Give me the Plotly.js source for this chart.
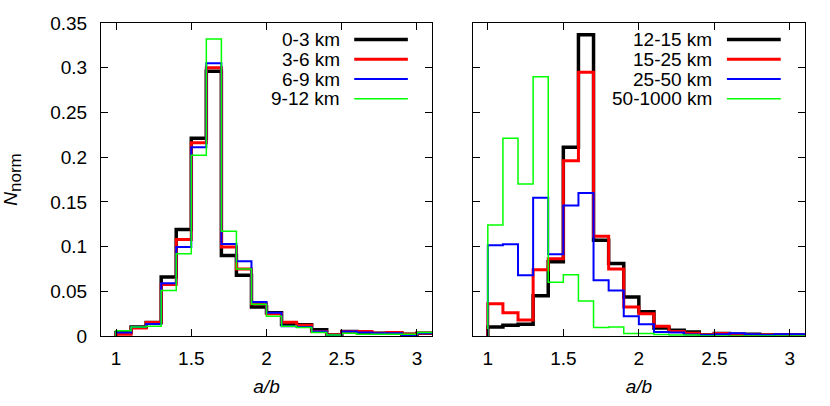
<!DOCTYPE html>
<html>
<head>
<meta charset="utf-8">
<script src="https://cdn.plot.ly/plotly-3.0.1.min.js"></script>
<style>
  html, body { margin: 0; padding: 0; background: #fff; }
  #chart { width: 830px; height: 406px; }
</style>
</head>
<body>
<div id="chart"></div>
<script>
// Bin left edges (bin width 0.1)
const binLeft = [1.0, 1.1, 1.2, 1.3, 1.4, 1.5, 1.6, 1.7, 1.8, 1.9, 2.0, 2.1, 2.2, 2.3, 2.4, 2.5, 2.6, 2.7, 2.8, 2.9, 3.0];
const binWidth = 0.1;

// Left panel series
const leftNames = ['0-3 km', '3-6 km', '6-9 km', '9-12 km'];
const n0_3   = [0.004, 0.010, 0.015, 0.066, 0.119, 0.221, 0.296, 0.090, 0.068, 0.0325, 0.026, 0.013, 0.0125, 0.007, 0.001, 0.005, 0.004, 0.003, 0.003, 0.002, 0.003];
const n3_6   = [0.002, 0.009, 0.015, 0.0575, 0.108, 0.216, 0.300, 0.0995, 0.075, 0.036, 0.025, 0.0155, 0.012, 0.005, 0.001, 0.005, 0.005, 0.003, 0.004, 0.002, 0.003];
const n6_9   = [0.004, 0.010, 0.0135, 0.059, 0.0995, 0.211, 0.305, 0.103, 0.0835, 0.038, 0.026, 0.011, 0.010, 0.005, 0.001, 0.005, 0.004, 0.003, 0.003, 0.001, 0.003];
const n9_12  = [0.006, 0.010, 0.011, 0.051, 0.092, 0.202, 0.332, 0.117, 0.075, 0.0355, 0.022, 0.011, 0.0094, 0.004, 0.001, 0.003, 0.002, 0.002, 0.002, 0.002, 0.004];

// Right panel series
const rightNames = ['12-15 km', '15-25 km', '25-50 km', '50-1000 km'];
const n12_15   = [0.010, 0.012, 0.013, 0.045, 0.083, 0.211, 0.337, 0.107, 0.081, 0.0436, 0.027, 0.009, 0.0064, 0.0045, 0.001, 0.0027, 0.002, 0.002, 0.001, 0.001, 0.001];
const n15_25   = [0.036, 0.026, 0.018, 0.074, 0.0865, 0.196, 0.295, 0.1115, 0.075, 0.0325, 0.025, 0.011, 0.005, 0.003, 0.001, 0.0027, 0.001, 0.001, 0.001, 0.001, 0.001];
const n25_50   = [0.1014, 0.1025, 0.068, 0.1547, 0.0914, 0.146, 0.160, 0.0623, 0.051, 0.022, 0.013, 0.0045, 0.004, 0.0016, 0.001, 0.002, 0.003, 0.002, 0.001, 0.002, 0.002];
const n50_1000 = [0.124, 0.221, 0.170, 0.290, 0.060, 0.0686, 0.039, 0.0094, 0.010, 0.0027, 0.0027, 0.0017, 0.001, 0.001, 0, 0, 0, 0, 0, 0, 0];

// Ticks
const xTickVals = [1, 1.5, 2, 2.5, 3];
const xTickText = ['1', '1.5', '2', '2.5', '3'];
const yTickVals = [0, 0.05, 0.1, 0.15, 0.2, 0.25, 0.3, 0.35];
const yTickText = ['0', '0.05', '0.1', '0.15', '0.2', '0.25', '0.3', '0.35'];

const colors = ['#000000', '#ff0000', '#0000ff', '#00ff00'];
const widths = [3.5, 3, 2, 1.5];

const xRange = [0.9, 3.1];
const yRange = [0, 0.35];

function stepTrace(vals, name, idx, xa, ya) {
  const x = [binLeft[0]].concat(binLeft, [binLeft[binLeft.length - 1] + binWidth]);
  const y = [0].concat(vals, [vals[vals.length - 1]]);
  return {
    type: 'scatter', mode: 'lines', name: name,
    x: x, y: y, xaxis: xa, yaxis: ya,
    line: { shape: 'hv', color: colors[idx], width: widths[idx] },
    showlegend: false, hoverinfo: 'skip'
  };
}

const leftSeries = [n0_3, n3_6, n6_9, n9_12];
const rightSeries = [n12_15, n15_25, n25_50, n50_1000];

const traces = [];
leftSeries.forEach((s, i) => traces.push(stepTrace(s, leftNames[i], i, 'x', 'y')));
rightSeries.forEach((s, i) => traces.push(stepTrace(s, rightNames[i], i, 'x2', 'y2')));

// Gnuplot-style legends (text right-aligned, sample line to the right)
const annotations = [];
const shapes = [];
const legTextX = 0.727, legLineX0 = 0.765, legLineX1 = 0.927;
const legY0 = 0.947, legDy = 0.063;
function addLegend(names, xa, ya) {
  names.forEach((nm, i) => {
    const yy = legY0 - i * legDy;
    annotations.push({
      text: nm, xref: xa + ' domain', yref: ya + ' domain',
      x: legTextX, y: yy, xanchor: 'right', yanchor: 'middle',
      showarrow: false, font: { size: 19, color: '#000' }
    });
    shapes.push({
      type: 'line', xref: xa + ' domain', yref: ya + ' domain',
      x0: legLineX0, x1: legLineX1, y0: yy, y1: yy,
      line: { color: colors[i], width: widths[i] }
    });
  });
}
addLegend(leftNames, 'x', 'y');
addLegend(rightNames, 'x2', 'y2');

const axisCommon = {
  showgrid: false, zeroline: false, showline: true, linecolor: '#000', linewidth: 1,
  mirror: 'allticks', ticks: 'inside', ticklen: 7, tickwidth: 1, tickcolor: '#000',
  tickfont: { size: 19, color: '#000' }
};

const layout = {
  width: 830, height: 406,
  margin: { l: 101, r: 25, t: 23, b: 70 },
  paper_bgcolor: '#fff', plot_bgcolor: '#fff',
  font: { family: 'Liberation Sans, Arial, sans-serif', size: 19, color: '#000' },
  xaxis: Object.assign({}, axisCommon, {
    domain: [0, 0.4702], range: xRange, anchor: 'y',
    tickmode: 'array', tickvals: xTickVals, ticktext: xTickText,
    ticklabelstandoff: 5,
    title: { text: '<i>a/b</i>', font: { size: 19 }, standoff: 11 }
  }),
  yaxis: Object.assign({}, axisCommon, {
    domain: [0, 1], range: yRange, anchor: 'x',
    tickmode: 'array', tickvals: yTickVals, ticktext: yTickText,
    ticklabelstandoff: 9,
    title: { text: '<i>N</i><sub><span style="font-size:17px">norm</span></sub>', font: { size: 19 }, standoff: 34 }
  }),
  xaxis2: Object.assign({}, axisCommon, {
    domain: [0.528, 1], range: xRange, anchor: 'y2',
    tickmode: 'array', tickvals: xTickVals, ticktext: xTickText,
    ticklabelstandoff: 5,
    title: { text: '<i>a/b</i>', font: { size: 19 }, standoff: 11 }
  }),
  yaxis2: Object.assign({}, axisCommon, {
    domain: [0, 1], range: yRange, anchor: 'x2',
    tickmode: 'array', tickvals: yTickVals, ticktext: yTickText,
    showticklabels: false
  }),
  annotations: annotations,
  shapes: shapes,
  showlegend: false
};

Plotly.newPlot('chart', traces, layout, { staticPlot: true, displayModeBar: false });
</script>
</body>
</html>
